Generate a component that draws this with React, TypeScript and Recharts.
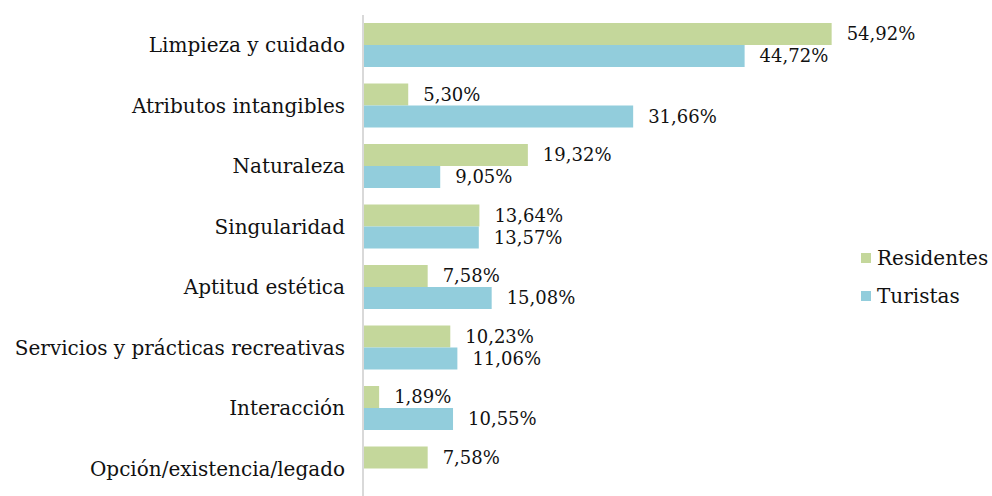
import { BarChart, Bar, XAxis, YAxis, LabelList } from 'recharts';

const categories = [
  'Limpieza y cuidado',
  'Atributos intangibles',
  'Naturaleza ',
  'Singularidad',
  'Aptitud estética',
  'Servicios y prácticas recreativas',
  'Interacción',
  'Opción/existencia/legado',
];
const residentes = [54.92, 5.3, 19.32, 13.64, 7.58, 10.23, 1.89, 7.58];
const turistas = [44.72, 31.66, 9.05, 13.57, 15.08, 11.06, 10.55, 0];

const GREEN = '#c4d79b';
const BLUE = '#92cddc';
const FONT = '"DejaVu Serif", serif';

const data = categories.map((name, i) => ({
  name,
  residentes: residentes[i],
  turistas: turistas[i],
}));

function fmt(v: unknown): string {
  const n = Number(v);
  if (!n) return '';
  return n.toFixed(2).replace('.', ',') + '%';
}

function LegendBox() {
  const items = [
    { name: 'Residentes', color: GREEN },
    { name: 'Turistas', color: BLUE },
  ];
  return (
    <div style={{ position: 'absolute', left: 861, top: 239, fontFamily: FONT, fontSize: 20, color: '#111' }}>
      {items.map((it) => (
        <div key={it.name} style={{ display: 'flex', alignItems: 'center', height: 38 }}>
          <span style={{ width: 10, height: 10, background: it.color, display: 'inline-block', marginRight: 6 }} />
          <span>{it.name}</span>
        </div>
      ))}
    </div>
  );
}

export default function App() {
  return (
    <div style={{ position: 'absolute', left: 0, top: 0, width: 992, height: 496, overflow: 'hidden', background: '#fff' }}>
      <BarChart
        width={992}
        height={500}
        data={data}
        layout="vertical"
        margin={{ top: 15, right: 117, bottom: 1, left: 0 }}
        barSize={22}
        barGap={0}
      >
        <XAxis type="number" domain={[0, 60]} hide />
        <YAxis
          type="category"
          dataKey="name"
          width={363}
          tickLine={false}
          tickSize={0}
          tickMargin={18}
          axisLine={{ stroke: '#d9d9d9', strokeWidth: 2 }}
          tick={{ fill: '#111', fontSize: 20, fontFamily: FONT }}
          interval={0}
        />
        <Bar dataKey="residentes" name="Residentes" fill={GREEN} isAnimationActive={false}>
          <LabelList
            dataKey="residentes"
            position="right"
            offset={15}
            formatter={fmt}
            style={{ fill: '#111', fontSize: 18, fontFamily: FONT }}
          />
        </Bar>
        <Bar dataKey="turistas" name="Turistas" fill={BLUE} isAnimationActive={false}>
          <LabelList
            dataKey="turistas"
            position="right"
            offset={15}
            formatter={fmt}
            style={{ fill: '#111', fontSize: 18, fontFamily: FONT }}
          />
        </Bar>
      </BarChart>
      <LegendBox />
    </div>
  );
}
